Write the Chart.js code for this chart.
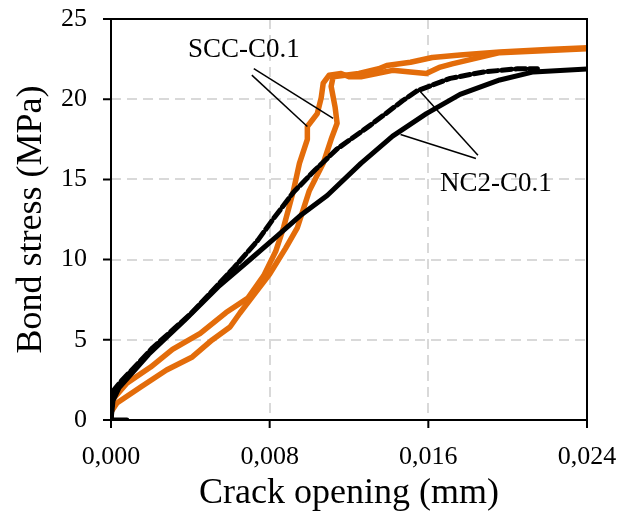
<!DOCTYPE html>
<html>
<head>
<meta charset="utf-8">
<script src="https://cdn.jsdelivr.net/npm/chart.js@4"></script>
<style>
  body { margin: 0; background: #fff; }
  #wrap { width: 629px; height: 525px; }
</style>
</head>
<body>
<div id="wrap"><canvas id="bondChart"></canvas></div>
<script>
// Axis ticks
const xTicks = [0, 0.008, 0.016, 0.024];
const yTicks = [0, 5, 10, 15, 20, 25];

// NC2-C0.1, first specimen (dashed black)
const ncDashX = [0, 0.0001, 0.0005, 0.0021, 0.0040, 0.0050, 0.0062, 0.0074, 0.0081, 0.0092, 0.0103, 0.0114, 0.0131, 0.0147, 0.0154, 0.0171, 0.0188, 0.0205, 0.0215];
const ncDashY = [0, 1.8, 2.4, 4.5, 6.6, 7.9, 9.5, 11.2, 12.4, 14.2, 15.6, 16.9, 18.4, 19.9, 20.5, 21.3, 21.7, 21.9, 21.9];

// NC2-C0.1, second specimen (solid black)
const ncSolidX = [0.0008, 0, 0.0001, 0.0004, 0.0019, 0.0037, 0.0054, 0.0071, 0.0084, 0.0096, 0.0109, 0.0126, 0.0142, 0.0159, 0.0176, 0.0196, 0.0213, 0.0240];
const ncSolidY = [0, 0, 1.2, 2.0, 4.1, 6.2, 8.3, 10.1, 11.5, 12.8, 14.0, 16.0, 17.7, 19.1, 20.3, 21.2, 21.7, 21.88];

// SCC-C0.1, first specimen (orange, left branch)
const sccAX = [0, 0, 0.0001, 0.0008, 0.0020, 0.0031, 0.0045, 0.0058, 0.0069, 0.0077, 0.0083, 0.0087, 0.0092, 0.0095, 0.0099, 0.0099, 0.0104, 0.0106, 0.0107, 0.0110, 0.0116, 0.0120, 0.0126, 0.0134, 0.0142, 0.0151, 0.0159, 0.0166, 0.0172, 0.0196, 0.0240];
const sccAY = [0, 0.9, 1.3, 2.3, 3.3, 4.4, 5.4, 6.7, 7.6, 9.0, 10.5, 12.0, 14.3, 16.0, 17.5, 18.3, 19.1, 20.1, 21.0, 21.5, 21.6, 21.4, 21.4, 21.6, 21.8, 21.7, 21.6, 22.0, 22.2, 22.9, 23.15];

// SCC-C0.1, second specimen (orange, right branch)
const sccBX = [0, 0.0003, 0.0015, 0.0028, 0.0041, 0.0051, 0.0060, 0.0065, 0.0072, 0.0080, 0.0088, 0.0094, 0.0100, 0.0107, 0.0111, 0.0114, 0.0113, 0.0111, 0.0112, 0.0125, 0.0135, 0.0139, 0.0151, 0.0162, 0.0176, 0.0196, 0.0220, 0.0240];
const sccBY = [0.5, 1.06, 2.06, 3.12, 3.93, 4.99, 5.8, 6.67, 7.8, 9.1, 10.7, 12.0, 14.3, 16.0, 17.5, 18.5, 19.5, 20.8, 21.4, 21.6, 21.9, 22.1, 22.3, 22.6, 22.75, 22.94, 23.1, 23.2];

// Labels and their leader lines (data units)
const labelTexts = ['SCC-C0.1', 'NC2-C0.1'];
const labelX = [0.0067, 0.0194];
const labelY = [23.05, 14.7];
const leaderFromX = [0.0072, 0.0071, 0.0185, 0.0184];
const leaderFromY = [21.9, 21.5, 16.5, 16.3];
const leaderToX = [0.0112, 0.0099, 0.0155, 0.0146];
const leaderToY = [18.8, 18.3, 20.6, 17.8];

const serif = "'Liberation Serif', 'Times New Roman', serif";
const orange = '#E36C0A';

function toPoints(xs, ys) {
    return xs.map((x, i) => ({ x: x, y: ys[i] }));
}

// Frame, outward tick marks, leader lines and labels
const framePlugin = {
    id: 'frame',
    afterDatasetsDraw(chart) {
        const ctx = chart.ctx;
        const area = chart.chartArea;
        const xs = chart.scales.x;
        const ys = chart.scales.y;
        ctx.save();

        // leader lines
        ctx.strokeStyle = '#000';
        ctx.lineWidth = 1.5;
        leaderFromX.forEach((fx, i) => {
            ctx.beginPath();
            ctx.moveTo(xs.getPixelForValue(fx), ys.getPixelForValue(leaderFromY[i]));
            ctx.lineTo(xs.getPixelForValue(leaderToX[i]), ys.getPixelForValue(leaderToY[i]));
            ctx.stroke();
        });

        // labels
        ctx.fillStyle = '#000';
        ctx.font = '27px ' + serif;
        ctx.textAlign = 'center';
        ctx.textBaseline = 'middle';
        labelTexts.forEach((t, i) => {
            ctx.fillText(t, xs.getPixelForValue(labelX[i]), ys.getPixelForValue(labelY[i]));
        });

        // plot frame
        ctx.lineWidth = 2;
        ctx.strokeRect(area.left, area.top, area.right - area.left, area.bottom - area.top);

        // outward tick marks
        ctx.beginPath();
        xTicks.forEach(v => {
            const px = xs.getPixelForValue(v);
            ctx.moveTo(px, area.bottom);
            ctx.lineTo(px, area.bottom + 8);
        });
        yTicks.forEach(v => {
            const py = ys.getPixelForValue(v);
            ctx.moveTo(area.left - 8, py);
            ctx.lineTo(area.left, py);
        });
        ctx.stroke();
        ctx.restore();
    }
};

const ctx = document.getElementById('bondChart').getContext('2d');
new Chart(ctx, {
    type: 'scatter',
    data: {
        datasets: [{
            label: 'NC2-C0.1 (1)',
            data: toPoints(ncDashX, ncDashY),
            borderColor: '#000',
            borderWidth: 5,
            borderDash: [10, 4],
            order: 1
        }, {
            label: 'NC2-C0.1 (2)',
            data: toPoints(ncSolidX, ncSolidY),
            borderColor: '#000',
            borderWidth: 5,
            order: 2
        }, {
            label: 'SCC-C0.1 (1)',
            data: toPoints(sccAX, sccAY),
            borderColor: orange,
            borderWidth: 5.5,
            order: 3
        }, {
            label: 'SCC-C0.1 (2)',
            data: toPoints(sccBX, sccBY),
            borderColor: orange,
            borderWidth: 5.5,
            order: 4
        }]
    },
    options: {
        responsive: true,
        maintainAspectRatio: false,
        animation: false,
        showLine: true,
        elements: {
            point: { radius: 0, hoverRadius: 0 },
            line: { tension: 0, fill: false, borderCapStyle: 'round', borderJoinStyle: 'round' }
        },
        layout: { padding: { left: 0, right: 42, top: 19, bottom: 0 } },
        plugins: {
            legend: { display: false },
            tooltip: { enabled: false }
        },
        scales: {
            x: {
                type: 'linear',
                min: 0,
                max: 0.024,
                afterFit: (scale) => {
                    scale.height = 105;
                    scale.paddingLeft = 0;
                    scale.paddingRight = 0;
                },
                afterBuildTicks: (scale) => { scale.ticks = xTicks.map(v => ({ value: v })); },
                ticks: {
                    padding: 22,
                    color: '#000',
                    font: { family: serif, size: 26 },
                    callback: (v) => Number(v).toFixed(3).replace('.', ',')
                },
                grid: { color: '#d9d9d9', lineWidth: 2, drawTicks: false },
                border: { display: false, dash: [10, 6] },
                title: {
                    display: true,
                    text: 'Crack opening (mm)',
                    color: '#000',
                    font: { family: serif, size: 36 },
                    padding: { top: 0, bottom: 10 }
                }
            },
            y: {
                type: 'linear',
                min: 0,
                max: 25,
                afterFit: (scale) => {
                    scale.width = 111;
                    scale.paddingTop = 0;
                    scale.paddingBottom = 0;
                },
                afterBuildTicks: (scale) => { scale.ticks = yTicks.map(v => ({ value: v })); },
                ticks: {
                    padding: 24,
                    color: '#000',
                    font: { family: serif, size: 26 }
                },
                grid: { color: '#d9d9d9', lineWidth: 2, drawTicks: false },
                border: { display: false, dash: [10, 6] },
                title: {
                    display: true,
                    text: 'Bond stress (MPa)',
                    color: '#000',
                    font: { family: serif, size: 36 },
                    padding: { top: 10, bottom: 0 }
                }
            }
        }
    },
    plugins: [framePlugin]
});
</script>
</body>
</html>
